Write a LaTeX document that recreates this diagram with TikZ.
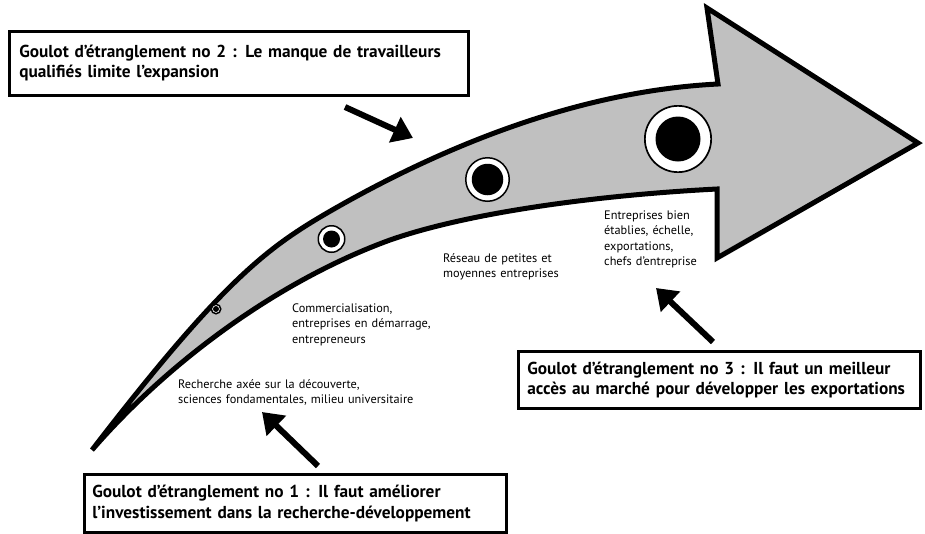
\documentclass[tikz,border=0pt]{standalone}
\usepackage{fontspec}
\setmainfont{PT Sans}
\usetikzlibrary{arrows.meta}
\definecolor{arrowgray}{RGB}{192,192,192}
\newcommand{\boxtxt}{\bfseries\fontsize{17.3}{20.5}\selectfont}
\newcommand{\smalltxt}{\fontsize{12.3}{15.6}\selectfont}
\begin{document}
\begin{tikzpicture}[x=1pt,y=-1pt,
  bodyshape/.style={fill=arrowgray, draw=black, line width=5pt, line join=miter, miter limit=30},
  gbox/.style={draw=black, line width=2.5pt, fill=white, anchor=north west,
    inner ysep=0pt, align=left, font=\boxtxt},
  lbl/.style={anchor=base west, inner sep=0pt, align=left, font=\smalltxt, text width=240pt},
  bigarrow/.style={line width=6pt, -{Triangle[length=20pt,width=27pt]}},
  ring/.style={circle, draw=black, fill=white, inner sep=0pt},
  blackdot/.style={circle, fill=black, inner sep=0pt},
]
\useasboundingbox (0,0) rectangle (925,533);

% main curved arrow
\path[bodyshape]
  (92,450) .. controls (222,281) and (267,248) .. (327,213)
  .. controls (427,155) and (568,91.5) .. (718,84)
  -- (707,8) -- (918,143) -- (717,258) -- (717,189)
  .. controls (600,195) and (470,212) .. (390,240)
  .. controls (280,280) and (170,360) .. (92,450)
  -- cycle;

% milestone circles
\node[ring, line width=1.5pt, minimum size=9.5pt] (c1) at (216,309) {};
\node[blackdot, minimum size=6pt] (d1) at (c1) {};
\node[ring, line width=1.5pt, minimum size=26.5pt] (c2) at (331.5,239) {};
\node[blackdot, minimum size=17pt] (d2) at (c2) {};
\node[ring, line width=1.5pt, minimum size=43.5pt] (c3) at (487.5,179.5) {};
\node[blackdot, minimum size=31.5pt] (d3) at (c3) {};
\node[ring, line width=1.7pt, minimum size=66.3pt] (c4) at (678,139) {};
\node[blackdot, minimum size=45pt] (d4) at (c4) {};

% stage labels
\node[lbl] (l1) at (178,388) {Recherche axée sur la découverte,\\sciences fondamentales, milieu universitaire};
\node[lbl] (l2) at (292,312) {Commercialisation,\\entreprises en démarrage,\\entrepreneurs};
\node[lbl] (l3) at (443,262) {Réseau de petites et\\moyennes entreprises};
\node[lbl] (l4) at (604,219) {Entreprises bien\\établies, échelle,\\exportations,\\chefs d’entreprise};

% bottleneck boxes
\node[gbox, inner xsep=10pt, text width=439pt, minimum height=64pt] (b2) at (8,30)
  {Goulot d’étranglement no 2 : Le manque de travailleurs\\qualifiés limite l’expansion};
\node[gbox, inner xsep=9pt, text width=384pt, minimum height=57pt] (b3) at (517,350)
  {Goulot d’étranglement no 3 : Il faut un meilleur\\accès au marché pour développer les exportations};
\node[gbox, inner xsep=8pt, text width=406pt, minimum height=58pt] (b1) at (83,473)
  {Goulot d’étranglement no 1 : Il faut améliorer\\l’investissement dans la recherche-développement};

% bottleneck arrows
\coordinate (a2s) at (345,107);
\coordinate (a2e) at (413,138);
\coordinate (a1s) at (318,466);
\coordinate (a1e) at (262,412);
\coordinate (a3s) at (713,342);
\coordinate (a3e) at (656,288);
\draw[bigarrow] (a2s) -- (a2e);
\draw[bigarrow] (a1s) -- (a1e);
\draw[bigarrow] (a3s) -- (a3e);
\end{tikzpicture}
\end{document}
